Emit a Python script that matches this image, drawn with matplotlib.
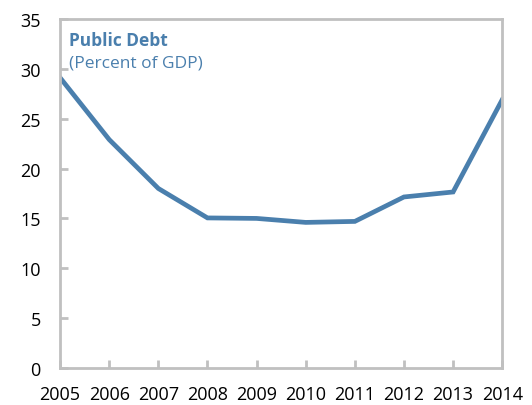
import matplotlib.pyplot as plt

years = [2005, 2006, 2007, 2008, 2009, 2010, 2011, 2012, 2013, 2014]
debt = [29.1, 22.9, 18.0, 15.05, 15.0, 14.6, 14.7, 17.15, 17.65, 26.9]
yticks = [0, 5, 10, 15, 20, 25, 30, 35]

plt.rcParams['font.family'] = ['Open Sans', 'DejaVu Sans']

blue = '#4a7fad'
grey = '#c0c0c0'

fig = plt.figure(figsize=(5.32, 4.06), dpi=100)
ax = fig.add_axes([0.113, 0.091, 0.831, 0.860])

ax.plot(years, debt, color=blue, lw=3.4, solid_joinstyle='miter')

ax.set_xlim(2005, 2014)
ax.set_ylim(0, 35)
ax.set_xticks(years)
ax.set_yticks(yticks)

for s in ax.spines.values():
    s.set_color(grey)
    s.set_linewidth(2)
ax.tick_params(direction='in', length=6, width=2, color=grey, labelsize=13)
ax.tick_params(axis='x', pad=12)
ax.tick_params(axis='y', pad=14)

ax.text(0.02, 0.94, 'Public Debt', transform=ax.transAxes, color=blue,
        fontsize=12.5, fontweight='bold', va='center')
ax.text(0.02, 0.875, '(Percent of GDP)', transform=ax.transAxes, color=blue,
        fontsize=12.5, va='center')

fig.savefig('out.png', dpi=100)
